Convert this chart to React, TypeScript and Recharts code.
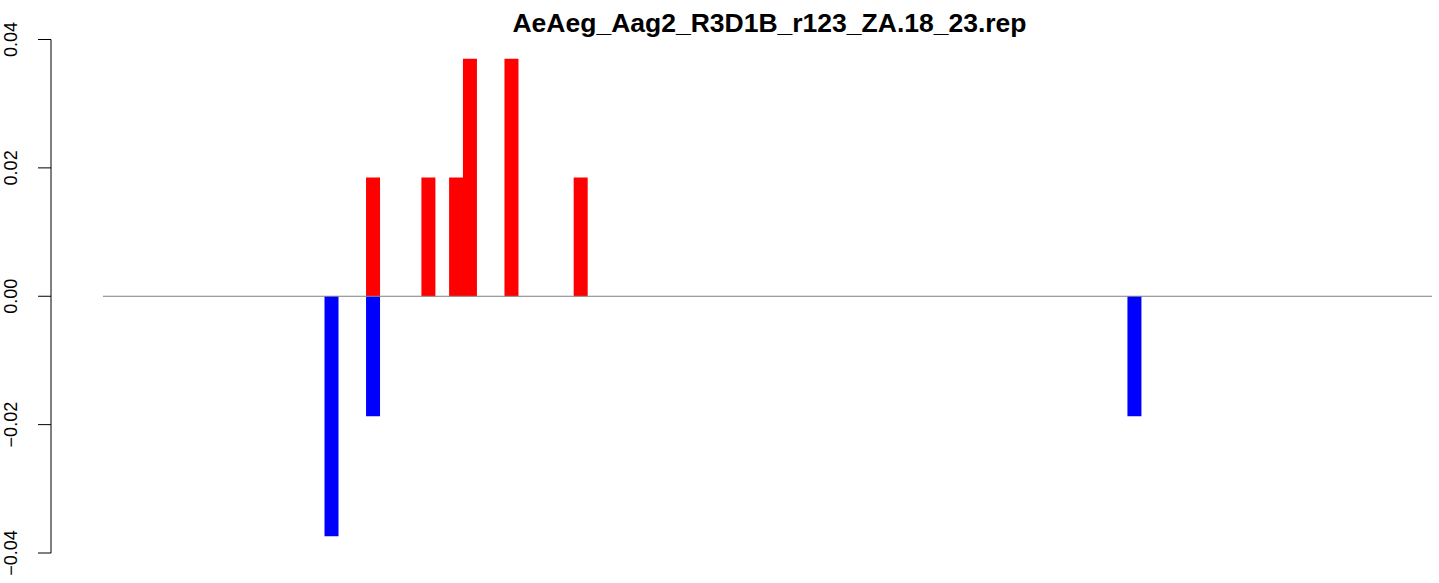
import React from 'react';
import { BarChart, Bar, XAxis, YAxis, ReferenceLine } from 'recharts';

const TITLE = 'AeAeg_Aag2_R3D1B_r123_ZA.18_23.rep';
const N_POSITIONS = 96;
const redIndex = [19, 23, 25, 26, 29, 34];
const redValues = [0.0185, 0.0185, 0.0185, 0.037, 0.037, 0.0185];
const blueIndex = [16, 19, 74];
const blueValues = [-0.0374, -0.0187, -0.0187];
const yTicks = [-0.04, -0.02, 0, 0.02, 0.04];
const yTickLabels = ['\u22120.04', '\u22120.02', '0.00', '0.02', '0.04'];

const data = Array.from({ length: N_POSITIONS }, (_, i) => {
  const r = redIndex.indexOf(i);
  const b = blueIndex.indexOf(i);
  return {
    pos: i,
    red: r >= 0 ? redValues[r] : null,
    blue: b >= 0 ? blueValues[b] : null,
  };
});

const FONT = '"Liberation Sans", Arial, Helvetica, sans-serif';

const YTick = (props: any) => {
  const { y, payload } = props;
  const idx = yTicks.indexOf(payload.value);
  const label = idx >= 0 ? yTickLabels[idx] : String(payload.value);
  return (
    <text
      x={17}
      y={y}
      transform={`rotate(-90, 17, ${y})`}
      textAnchor="middle"
      fontSize={18}
      fontFamily={FONT}
      fill="#000"
    >
      {label}
    </text>
  );
};

export default function App() {
  return (
    <div style={{ position: 'absolute', left: 0, top: 0, width: 1439, height: 583, background: '#fff' }}>
      <div
        style={{
          position: 'absolute',
          left: 0,
          top: 10,
          width: 1539,
          textAlign: 'center',
          fontFamily: FONT,
          fontWeight: 'bold',
          fontSize: 26.5,
          lineHeight: '26.5px',
          color: '#000',
          whiteSpace: 'nowrap',
        }}
      >
        {TITLE}
      </div>
      <BarChart
        width={1439}
        height={583}
        data={data}
        margin={{ top: 39.5, right: 7, bottom: 30, left: 0 }}
        barCategoryGap={0}
        barGap={0}
        stackOffset="sign"
      >
        <XAxis dataKey="pos" hide padding={{ left: 52, right: 0 }} />
        <XAxis
          xAxisId="num"
          type="number"
          dataKey="pos"
          domain={[0, N_POSITIONS]}
          hide
          padding={{ left: 52, right: 0 }}
          allowDataOverflow
        />
        <YAxis
          width={51}
          domain={[-0.04, 0.04]}
          ticks={yTicks}
          type="number"
          allowDataOverflow
          tickSize={13}
          tickLine={{ stroke: '#000', strokeWidth: 1 }}
          axisLine={{ stroke: '#000', strokeWidth: 1 }}
          tick={<YTick />}
        />
        <ReferenceLine
          xAxisId="num"
          segment={[{ x: 0, y: 0 }, { x: N_POSITIONS, y: 0 }]}
          stroke="#808080"
          strokeWidth={1}
        />
        <Bar dataKey="red" stackId="s" fill="#FF0000" isAnimationActive={false} />
        <Bar dataKey="blue" stackId="s" fill="#0000FF" isAnimationActive={false} />
      </BarChart>
    </div>
  );
}
